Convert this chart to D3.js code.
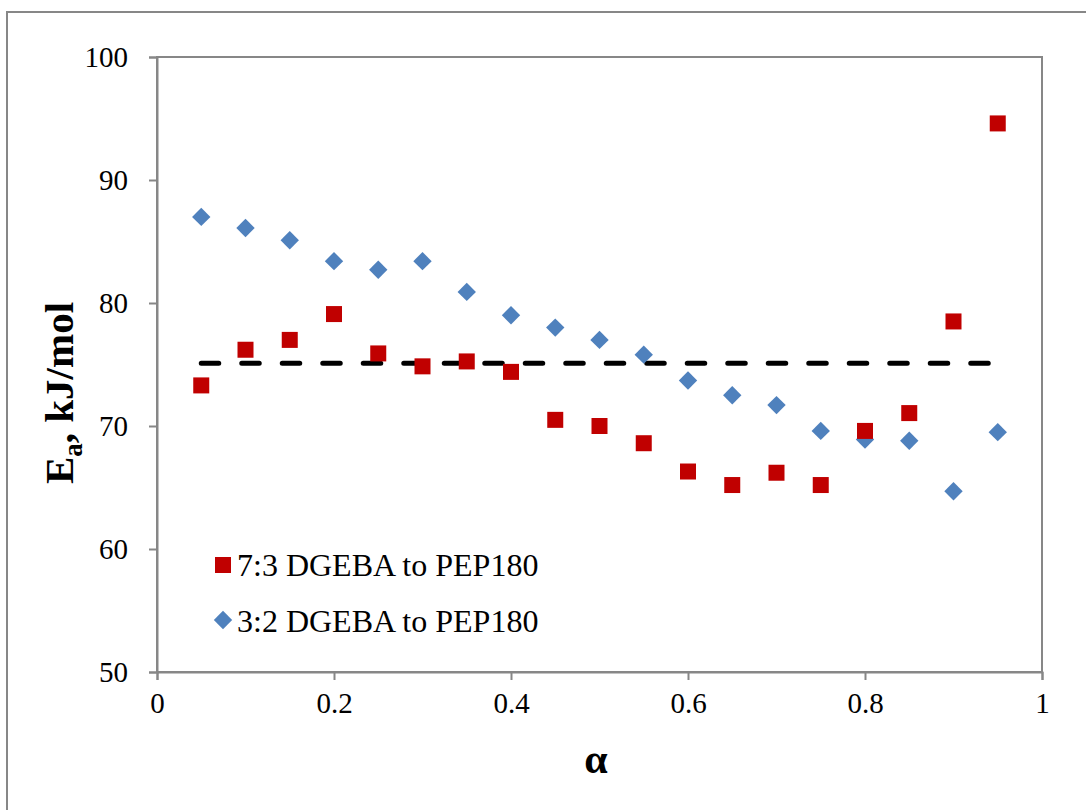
<!DOCTYPE html>
<html lang="en">
<head>
<meta charset="UTF-8">
<title>Ea vs alpha</title>
<script src="https://cdn.jsdelivr.net/npm/d3@7"></script>
<style>
  body { margin: 0; background: #fff; }
  svg text { font-family: "Liberation Serif", "Times New Roman", serif; fill: #000; }
</style>
</head>
<body>
<svg width="1086" height="810" id="chart"></svg>
<script>
// conversion values
const alpha = [0.05, 0.1, 0.15, 0.2, 0.25, 0.3, 0.35, 0.4, 0.45, 0.5, 0.55, 0.6, 0.65, 0.7, 0.75, 0.8, 0.85, 0.9, 0.95];
// 7:3 DGEBA to PEP180
const ea73 = [73.3, 76.2, 77.0, 79.1, 75.9, 74.85, 75.25, 74.4, 70.5, 70.0, 68.6, 66.3, 65.2, 66.2, 65.2, 69.6, 71.05, 78.5, 94.6];
// 3:2 DGEBA to PEP180
const ea32 = [87.0, 86.1, 85.1, 83.4, 82.7, 83.4, 80.9, 79.0, 78.0, 77.0, 75.8, 73.7, 72.5, 71.7, 69.6, 68.9, 68.8, 64.7, 69.5];
const meanLine = { from: 0.05, to: 0.95, value: 75.1 };
const xTicks = [0, 0.2, 0.4, 0.6, 0.8, 1];
const yTicks = [50, 60, 70, 80, 90, 100];
const seriesNames = ["7:3 DGEBA to PEP180", "3:2 DGEBA to PEP180"];

const svg = d3.select("#chart");
const gray = "#878787";
const serif = "'Liberation Serif', 'Times New Roman', serif";

// outer chart border (runs off right/bottom edge)
svg.append("rect")
    .attr("x", 7).attr("y", 12)
    .attr("width", 1100).attr("height", 820)
    .attr("fill", "none").attr("stroke", gray).attr("stroke-width", 2);

const x = d3.scaleLinear().domain([0, 1]).range([157, 1042]);
const y = d3.scaleLinear().domain([50, 100]).range([672, 57]);

// plot area box
svg.append("rect")
    .attr("x", x(0)).attr("y", y(100))
    .attr("width", x(1) - x(0)).attr("height", y(50) - y(100))
    .attr("fill", "none").attr("stroke", gray).attr("stroke-width", 2);

const xAxis = svg.append("g")
    .attr("transform", `translate(0,${y(50)})`)
    .call(d3.axisBottom(x).tickValues(xTicks).tickFormat(d3.format("")).tickSize(8).tickPadding(12));
const yAxis = svg.append("g")
    .attr("transform", `translate(${x(0)},0)`)
    .call(d3.axisLeft(y).tickValues(yTicks).tickSize(8).tickPadding(21));

[xAxis, yAxis].forEach(g => {
  g.attr("font-family", null).attr("font-size", null);
  g.select(".domain").attr("stroke", gray).attr("stroke-width", 2);
  g.selectAll(".tick line").attr("stroke", gray).attr("stroke-width", 2);
  g.selectAll(".tick text")
      .style("font-family", serif)
      .style("font-size", "29px").attr("fill", "#000");
});

// dashed reference line
svg.append("line")
    .attr("x1", x(meanLine.from)).attr("x2", x(meanLine.to))
    .attr("y1", y(meanLine.value)).attr("y2", y(meanLine.value))
    .attr("stroke", "#000").attr("stroke-width", 5)
    .attr("stroke-linecap", "round")
    .attr("stroke-dasharray", "17.5,23");

const red = "#C00000", blue = "#4F81BD";
const sq = 16, dm = 13;

// blue diamonds
svg.append("g").selectAll("rect")
    .data(alpha.map((a, i) => [a, ea32[i]]))
    .join("rect")
    .attr("x", -dm / 2).attr("y", -dm / 2)
    .attr("width", dm).attr("height", dm)
    .attr("transform", d => `translate(${x(d[0])},${y(d[1])}) rotate(45)`)
    .attr("fill", blue);

// red squares
svg.append("g").selectAll("rect")
    .data(alpha.map((a, i) => [a, ea73[i]]))
    .join("rect")
    .attr("x", d => x(d[0]) - sq / 2).attr("y", d => y(d[1]) - sq / 2)
    .attr("width", sq).attr("height", sq)
    .attr("fill", red);

// legend
const leg = svg.append("g");
leg.append("rect").attr("x", 223 - sq / 2).attr("y", 565 - sq / 2)
    .attr("width", sq).attr("height", sq).attr("fill", red);
leg.append("rect").attr("x", -dm / 2).attr("y", -dm / 2)
    .attr("width", dm).attr("height", dm)
    .attr("transform", "translate(223,620) rotate(45)").attr("fill", blue);
leg.selectAll("text").data(seriesNames).join("text")
    .attr("x", 237).attr("y", (d, i) => 576 + i * 56)
    .style("font-family", serif)
    .style("font-size", "32px")
    .text(d => d);

// axis titles
svg.append("text")
    .attr("x", 596).attr("y", 773)
    .attr("text-anchor", "middle")
    .style("font-family", serif)
    .attr("font-size", 42).attr("font-weight", "bold")
    .text("α");

const yt = svg.append("text")
    .attr("transform", "translate(73,393) rotate(-90)")
    .attr("text-anchor", "middle")
    .style("font-family", serif)
    .attr("font-size", 41).attr("font-weight", "bold");
yt.append("tspan").text("E");
yt.append("tspan").attr("font-size", 27).attr("dy", 9).text("a");
yt.append("tspan").attr("dy", -9).text(", kJ/mol");
</script>
</body>
</html>
